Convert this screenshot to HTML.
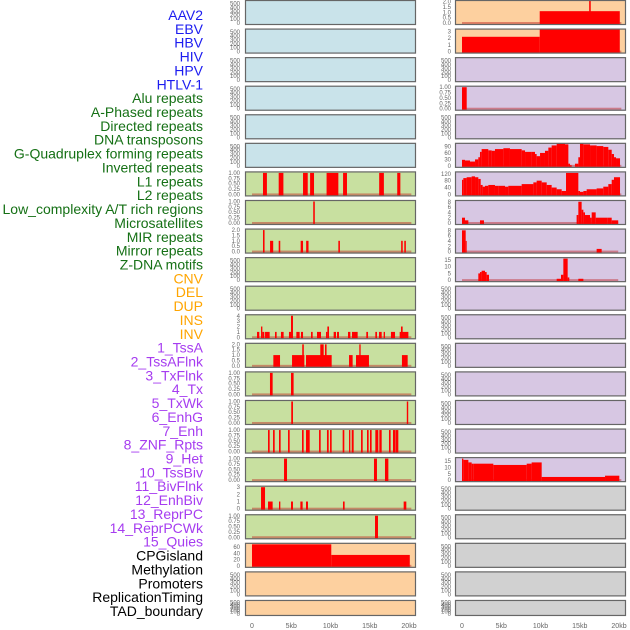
<!DOCTYPE html>
<html><head><meta charset="utf-8"><style>
html,body{margin:0;padding:0;background:#fff}
svg{display:block}
</style></head><body>
<svg id="chart" width="630" height="630" viewBox="0 0 630 630" xmlns="http://www.w3.org/2000/svg" font-family="'Liberation Sans', sans-serif">
<g id="labels"></g>
<g id="panels"></g>
<g id="xaxis"></g>
</svg>
<script>
const trackLabels = ["AAV2","EBV","HBV","HIV","HPV","HTLV-1","Alu repeats","A-Phased repeats","Directed repeats","DNA transposons","G-Quadruplex forming repeats","Inverted repeats","L1 repeats","L2 repeats","Low_complexity A/T rich regions","Microsatellites","MIR repeats","Mirror repeats","Z-DNA motifs","CNV","DEL","DUP","INS","INV","1_TssA","2_TssAFlnk","3_TxFlnk","4_Tx","5_TxWk","6_EnhG","7_Enh","8_ZNF_Rpts","9_Het","10_TssBiv","11_BivFlnk","12_EnhBiv","13_ReprPC","14_ReprPCWk","15_Quies","CPGisland","Methylation","Promoters","ReplicationTiming","TAD_boundary"];
const labelGroups = [6,13,5,15,5];
const groupColors = ["#1c1cf0","#157015","#ffa500","#a63cf0","#000000"];
const xTickValues = [0,5,10,15,20];
const xTickLabels = ["0","5kb","10kb","15kb","20kb"];

// Left column bar series: starts / ends (kb) / values
const L1_starts=[1.4,3.4,6.5,7.4,9.5,11.6,16.2,18.5];
const L1_ends=[1.9,4.0,7.1,7.9,11.0,12.1,16.8,18.9];
const L1_vals=[1,1,1,1,1,1,1,1];
const LOWC_starts=[7.8];
const LOWC_ends=[8.0];
const LOWC_vals=[1];
const MIR_starts=[1.4,2.3,3.4,6.2,6.9,11.0,19.0,19.4];
const MIR_ends=[1.6,2.7,3.6,6.5,7.2,11.2,19.2,19.6];
const MIR_vals=[2,1,1,1,1,1,1,1];
const INS_starts=[0.64,1.15,1.32,1.66,2.93,3.69,4.71,4.97,5.65,6.24,7.52,8.28,9.43,9.6,10.4,10.83,12.23,12.74,14.56,15.71,16.18,16.77,17.7,18.81,18.98];
const INS_ends=[0.93,1.32,1.57,2.25,3.14,4.03,4.97,5.22,6.07,6.5,7.73,8.79,9.6,9.81,10.7,11.08,12.53,13.46,14.78,15.92,16.52,16.94,18.22,19.92,19.19];
const INS_vals=[1,2,1,1,1,1,1,4,1,1,1,1,1,2,1,1,1,1,1,1,1,1,1,1,2];
const TSSA_starts=[2.72,5.1,6.88,6.4,8.7,9.3,12.36,13.25,13.67,19.1];
const TSSA_ends=[3.57,6.67,10.15,6.6,9.13,9.5,12.82,14.9,13.84,19.83];
const TSSA_vals=[1,1,1,2,2,2,1,1,2,1];
const TSSAF_starts=[2.29,4.97];
const TSSAF_ends=[2.63,5.3];
const TSSAF_vals=[1,1];
const TXF_starts=[5.0,19.72];
const TXF_ends=[5.22,19.9];
const TXF_vals=[1,1];
const TX_starts=[2.04,2.68,3.44,4.59,6.37,6.88,8.54,9.55,9.94,11.55,12.36,12.7,13.89,14.65,15.03,15.71,16.22,17.45,17.96,18.34];
const TX_ends=[2.25,2.89,3.65,4.8,6.58,7.35,8.75,9.77,10.15,11.76,12.53,12.95,14.1,14.86,15.24,16.09,16.52,17.66,18.3,18.64];
const TX_vals=[1,1,1,1,1,1,1,1,1,1,1,1,1,1,1,1,1,1,1,1];
const TXWK_starts=[4.08,15.54,16.94];
const TXWK_ends=[4.46,15.92,17.37];
const TXWK_vals=[1,1,1];
const ENHG_starts=[1.15,2.04,3.44,4.97,6.16,6.88,11.59,19.32];
const ENHG_ends=[1.66,2.63,3.61,5.22,6.45,7.13,11.8,19.66];
const ENHG_vals=[3,1,1,1,1,1,1,1];
const ENH_starts=[15.67];
const ENH_ends=[16.05];
const ENH_vals=[1];
const CPG_starts=[0,10.1];
const CPG_ends=[10.1,20.1];
const CPG_vals=[69,35];

// Right column series
const R0_starts=[9.9,16.2];
const R0_ends=[20.1,16.4];
const R0_vals=[1.1,2.1];
const R1_starts=[0,9.9];
const R1_ends=[9.9,20.1];
const R1_vals=[2.2,3.3];
const R3_starts=[0];
const R3_ends=[0.6];
const R3_vals=[1];
const GQ_edges=[0,0.38,1.02,1.66,2.08,2.29,2.5,3.35,3.78,4.2,5.27,6.11,7.6,8.03,8.87,9.3,9.51,9.94,10.57,11.0,11.42,12.06,13.12,13.55,13.76,13.97,14.39,14.82,15.03,15.46,16.31,17.15,18.0,18.64,19.07,19.36,19.62,20.13];
const GQ_vals=[28,25,20,30,40,65,78,72,70,78,82,78,72,65,65,55,45,60,70,85,95,105,100,10,3,0,10,40,105,100,95,92,88,75,55,40,35];
const L1R_edges=[0,0.17,0.59,1.23,1.66,2.08,2.38,2.63,2.93,3.35,4.2,4.63,5.48,5.9,7.6,9.09,9.51,10.15,10.79,11.42,12.06,12.7,13.25,14.82,15.03,15.46,15.88,17.15,18.0,18.64,19.07,19.36,20.13];
const L1R_vals=[85,95,100,105,100,90,55,45,50,55,50,50,45,50,60,70,80,70,55,40,30,20,125,20,15,20,30,35,45,60,85,100];
const R7_edges=[0,0.38,0.81,2.29,2.8,14.6,14.82,15.24,15.46,15.67,16.31,16.52,17.03,18.51,19.07,19.9];
const R7_vals=[2,1,0,1,0,3,8,5,4,3,2,4,2,2,1];
const R8_edges=[0,0.47,0.59,17.15,17.79];
const R8_vals=[8,4,0,1];
const ZDNA_edges=[2.08,2.29,2.5,2.93,3.14,3.44,12.06,12.61,12.91,13.46,13.67,14.82,15.46];
const ZDNA_vals=[5,6,7,6,4,0,1,4,16,2,0,1];
const R16_edges=[0,0.17,0.81,1.23,1.44,3.99,8.24,8.87,10.15,18.22,20.04];
const R16_vals=[17,16,14,13,13,12,13,14,2.5,3.5];

const NS="http://www.w3.org/2000/svg";
function mk(tag, attrs, parent){const e=document.createElementNS(NS,tag);for(const k in attrs)e.setAttribute(k,attrs[k]);parent.appendChild(e);return e;}

const labelsG=document.getElementById('labels');
let gi=0,cnt=0;
trackLabels.forEach((t,i)=>{
  while(cnt>=labelGroups[gi]){cnt=0;gi++;}
  cnt++;
  const el=mk('text',{x:203,y:15+i*13.86+5,'text-anchor':'end','font-size':'14',fill:groupColors[gi]},labelsG);
  
  
  el.textContent=t;
});

const xL=kb=>252+kb*7.85, xR=kb=>462+kb*7.85;
const panelsG=document.getElementById('panels');
const emptyTicks=[0,100,200,300,400,500];

function fmt(v,dec){return v.toFixed(dec);}
function drawPanel(row,col,bg,spec){
  const T=row*28.57, H=(row===21)?16:25;
  const x0=col===0?245:455, x1=col===0?416:626;
  const xs=col===0?xL:xR;
  const g=mk('g',{},panelsG);
  
  
  const bgr=mk('rect',{x:x0,y:T,width:x1-x0,height:H,fill:bg},g);
  
  
  const axisMax=spec?spec.max:550;
  const zero=T+H-2, span=H-3.5;
  const yv=v=>zero-v/axisMax*span;
  const ticks=spec?spec.ticks:emptyTicks;
  const dec=spec?spec.dec:0;
  ticks.forEach(tv=>{
    const tx=mk('text',{x:col===0?240:451,y:yv(tv)+2,'text-anchor':'end','font-size':'6',fill:'#666'},g);
    
    
    tx.textContent=fmt(tv,dec);
  });
  if(spec){
    const clip='clip'+row+'_'+col;
    const cp=mk('clipPath',{id:clip},g);
    mk('rect',{x:x0,y:T,width:x1-x0,height:H},cp);
    const dg=mk('g',{'clip-path':'url(#'+clip+')'},g);
    const base=mk('rect',{x:xs(spec.baseStart||0),y:zero-1,width:xs(spec.baseEnd||20.3)-xs(spec.baseStart||0),height:2,fill:'rgba(190,30,30,0.45)'},dg);
    
    
    const S=spec.starts,E=spec.ends,V=spec.vals;
    for(let i=0;i<V.length;i++){
      if(V[i]<=0)continue;
      const a=xs(S[i]),b=xs(E[i]),top=yv(V[i]);
      const r=mk('rect',{x:a,y:top,width:Math.max(b-a,1),height:zero+1-top,fill:'#ff0000'},dg);
      
      
    }
  }
  const fr=mk('rect',{x:x0+0.5,y:T+0.5,width:x1-x0-1,height:H-1,fill:'none',stroke:'#666','stroke-width':1.2},g);
  
  
}
function bars(s,e,v,max,ticks,dec){return {starts:s,ends:e,vals:v,max:max,ticks:ticks,dec:dec};}
function steps(ed,v,max,ticks,dec){return {starts:ed.slice(0,-1),ends:ed.slice(1),vals:v,max:max,ticks:ticks,dec:dec,baseStart:ed[0]};}
const q=[0,0.25,0.5,0.75,1];
const leftSpecs={
  6:bars(L1_starts,L1_ends,L1_vals,1,q,2),
  7:bars(LOWC_starts,LOWC_ends,LOWC_vals,1,q,2),
  8:bars(MIR_starts,MIR_ends,MIR_vals,2,[0,0.5,1,1.5,2],1),
  11:bars(INS_starts,INS_ends,INS_vals,4,[0,1,2,3,4],0),
  12:bars(TSSA_starts,TSSA_ends,TSSA_vals,2,[0,0.5,1,1.5,2],1),
  13:bars(TSSAF_starts,TSSAF_ends,TSSAF_vals,1,q,2),
  14:bars(TXF_starts,TXF_ends,TXF_vals,1,q,2),
  15:bars(TX_starts,TX_ends,TX_vals,1,q,2),
  16:bars(TXWK_starts,TXWK_ends,TXWK_vals,1,q,2),
  17:bars(ENHG_starts,ENHG_ends,ENHG_vals,3,[0,1,2,3],0),
  18:bars(ENH_starts,ENH_ends,ENH_vals,1,q,2),
  19:bars(CPG_starts,CPG_ends,CPG_vals,69,[0,20,40,60],0)
};
const rightSpecs={
  0:bars(R0_starts,R0_ends,R0_vals,2,[0,0.5,1,1.5,2],1),
  1:bars(R1_starts,R1_ends,R1_vals,3.2,[0,1,2,3],0),
  3:bars(R3_starts,R3_ends,R3_vals,1,q,2),
  5:steps(GQ_edges,GQ_vals,100,[0,30,60,90],0),
  6:steps(L1R_edges,L1R_vals,125,[0,40,80,120],0),
  7:steps(R7_edges,R7_vals,8.1,[0,2,4,6,8],0),
  8:steps(R8_edges,R8_vals,8.1,[0,2,4,6,8],0),
  9:steps(ZDNA_edges,ZDNA_vals,16,[0,5,10,15],0),
  16:steps(R16_edges,R16_vals,17,[0,5,10,15],0)
};
rightSpecs[7].baseEnd=19.9;rightSpecs[8].baseEnd=19.9;rightSpecs[9].baseStart=0;rightSpecs[9].baseEnd=19.9;
for(let r=0;r<22;r++){
  const lbg=r<6?'#c9e3ea':(r<19?'#c8e0a0':'#fdd09f');
  const rbg=r<2?'#fdd09f':(r<17?'#d7c7e3':'#d1d1d1');
  drawPanel(r,0,lbg,leftSpecs[r]);
  drawPanel(r,1,rbg,rightSpecs[r]);
}
const xa=document.getElementById('xaxis');
[xL,xR].forEach(f=>{
  xTickValues.forEach((v,i)=>{
    const t=mk('text',{x:f(v),y:628,'text-anchor':'middle','font-size':'7',fill:'#666'},xa);
    
    
    t.textContent=xTickLabels[i];
  });
});
</script>
</body></html>
